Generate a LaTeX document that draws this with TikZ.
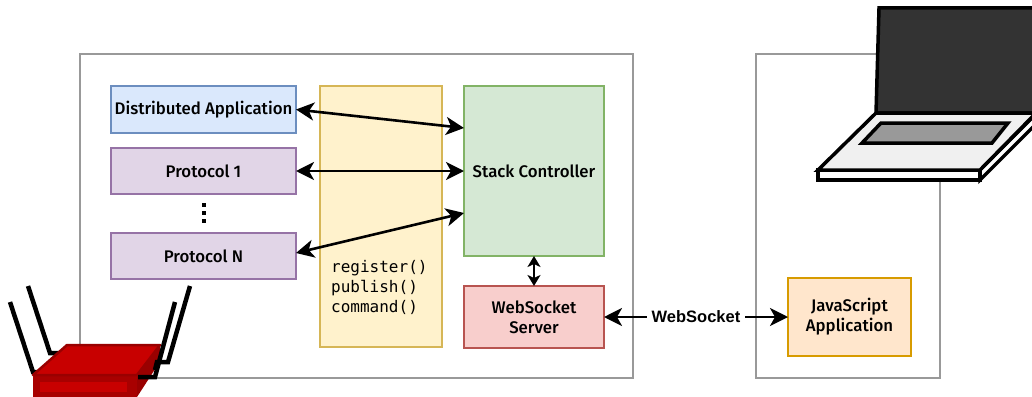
\documentclass[tikz,border=0pt]{standalone}
\usepackage{fontspec}
\setmainfont{Fira Sans}
\newfontfamily\boxfont{Fira Sans Medium}
\newfontfamily\codefont{DejaVu Sans Mono}
\newfontfamily\linkfont{Liberation Sans}[BoldFont=* Bold]
\usetikzlibrary{arrows.meta,calc}

\definecolor{frame}{HTML}{999999}
\definecolor{blueF}{HTML}{DAE8FC}\definecolor{blueD}{HTML}{6C8EBF}
\definecolor{purpF}{HTML}{E1D5E7}\definecolor{purpD}{HTML}{9673A6}
\definecolor{yelF}{HTML}{FFF2CC}\definecolor{yelD}{HTML}{D6B656}
\definecolor{grnF}{HTML}{D5E8D4}\definecolor{grnD}{HTML}{82B366}
\definecolor{redF}{HTML}{F8CECC}\definecolor{redD}{HTML}{B85450}
\definecolor{orgF}{HTML}{FFE6CC}\definecolor{orgD}{HTML}{D79B00}
\definecolor{rtTop}{HTML}{C80000}
\definecolor{rtDark}{HTML}{990000}
\definecolor{rtFront}{HTML}{A80000}
\definecolor{scr}{HTML}{333333}
\definecolor{kbd}{HTML}{999999}
\definecolor{deck}{HTML}{F0F0F0}

\begin{document}
\begin{tikzpicture}[x=1pt,y=-1pt,
  box/.style={draw, line width=1.3pt, inner sep=0pt, outer sep=0pt, align=center,
    font=\boxfont\fontsize{16.8}{20}\selectfont},
  container/.style={draw=frame, line width=2.8pt},
  arr/.style={line width=2.6pt,
    {Stealth[length=18pt,width=18pt,inset=5pt]}-{Stealth[length=18pt,width=18pt,inset=5pt]}},
  shortarr/.style={line width=2.6pt,
    {Stealth[length=11pt,width=13pt,inset=3pt]}-{Stealth[length=11pt,width=13pt,inset=3pt]}},
  antenna/.style={line width=4.5pt, line join=miter}
]
\path[use as bounding box] (0,0) rectangle (1032,396);

% host machines
\draw[container] (80,54) rectangle (633,378);
\draw[container] (756,54) rectangle (940,378);

% left machine: application, protocols and stack
\node[box, fill=blueF, draw=blueD, minimum width=185pt, minimum height=47pt] (da) at (203.5,109.5) {Distributed Application};
\node[box, fill=purpF, draw=purpD, minimum width=185pt, minimum height=46pt] (p1) at (203.5,171) {Protocol 1};
\node[box, fill=purpF, draw=purpD, minimum width=185pt, minimum height=46pt] (pn) at (203.5,256) {Protocol N};
\foreach \yy in {205,213,221}
  \fill (201.5,\yy-2) rectangle (205.5,\yy+2);

\node[box, fill=yelF, draw=yelD, minimum width=122pt, minimum height=261pt] (api) at (381,216.5) {};
\node[anchor=base west, align=left, inner sep=0pt, font=\codefont\fontsize{16}{20}\selectfont] (calls) at (331,312) {register()\\publish()\\command()};

\node[box, fill=grnF, draw=grnD, minimum width=140pt, minimum height=170pt] (sc) at (534,171) {Stack Controller};
\node[box, fill=redF, draw=redD, minimum width=140pt, minimum height=62pt] (ws) at (534,317) {WebSocket\\Server};

% right machine
\node[box, fill=orgF, draw=orgD, minimum width=123pt, minimum height=78pt] (js) at (849.5,317) {JavaScript\\Application};

% connectors
\draw[arr] (da.east) -- ($(sc.north west)+(0,42)$);
\draw[arr] (p1.east) -- (sc.west);
\draw[arr] ($(pn.east)+(0,-3)$) -- ($(sc.north west)+(0,127)$);
\draw[shortarr] (sc.south) -- (ws.north);
\draw[arr] (ws.east) -- node[fill=white, inner sep=5pt, font=\linkfont\bfseries\fontsize{16.5}{20}\selectfont] (wslabel) {WebSocket} (js.west);

% router
\draw[antenna] (10,302) -- (33,372) -- (44,372);
\draw[antenna] (28,286) -- (50,353) -- (60,353);
\fill[rtFront] (33,375) rectangle (137,397);
\fill[rtTop] (40,382) rectangle (127,392);
\fill[rtDark] (137,375) -- (160,345) -- (161,360) -- (137,397) -- cycle;
\draw[rtDark, fill=rtTop, line width=2.5pt, line join=round] (33,375) -- (67,345) -- (160,345) -- (137,375) -- cycle;
\draw[antenna] (190,286) -- (168,362) -- (157,362) -- (155,370);
\draw[antenna] (175,302) -- (155,377) -- (138,377);

% laptop
\begin{scope}[line width=3.5pt, line join=miter]
\draw[fill=scr] (879,8) -- (1040,8) -- (1040,113) -- (876,113) -- cycle;
\draw[fill=white] (818,170) -- (980,170) -- (980,180) -- (818,180) -- cycle;
\draw[fill=white] (980,170) -- (1036,114) -- (1036,124) -- (980,180) -- cycle;
\draw[fill=deck] (876,113) -- (1036,113) -- (980,170) -- (818,170) -- cycle;
\draw[fill=kbd] (881,123) -- (1008,123) -- (992,143) -- (862,143) -- cycle;
\end{scope}
\end{tikzpicture}
\end{document}
